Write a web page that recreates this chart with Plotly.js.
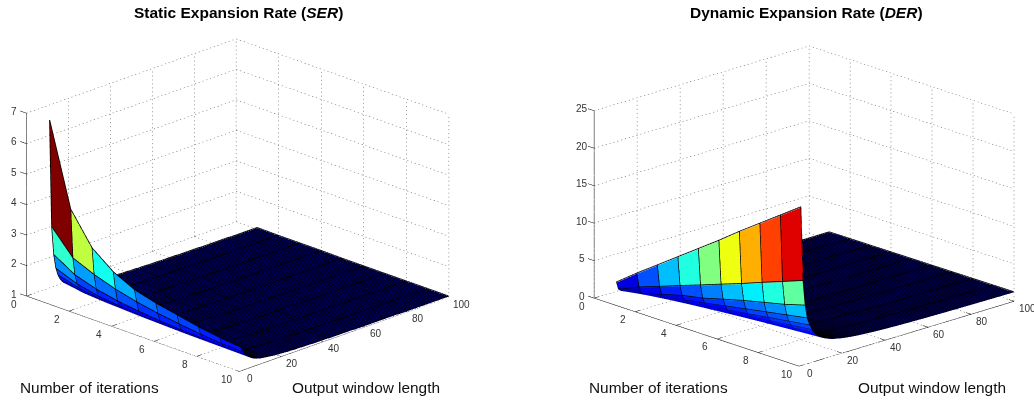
<!DOCTYPE html>
<html><head><meta charset="utf-8">
<script src="https://cdn.plot.ly/plotly-3.0.1.min.js"></script>
<style>html,body{margin:0;padding:0;background:#fff}#c{width:1034px;height:400px}</style>
</head><body><div id="c"></div>
<script>
// Values are z*100; rows = output window length 1..100, columns = iterations 1..10
const iterations=[1,2,3,4,5,6,7,8,9,10];
const xTicks=[0,2,4,6,8,10];
const yTicks=[0,20,40,60,80,100];
const serZTicks=[1,2,3,4,5,6,7];
const derZTicks=[0,5,10,15,20,25];
const SER=[
[700,430,328,274,240,221,207,193,182,175],[346,268,238,215,198,185,175,167,160,158],
[252,210,188,174,165,158,153,150,148,147],[205,178,163,155,150,146,144,142,141,140],
[181,162,151,146,142,139,137,136,135,134],[165,150,143,139,136,134,133,131,130,129],
[154,142,137,134,131,130,128,127,126,125],[147,137,133,130,128,127,125,124,123,122],
[142,134,130,128,126,125,123,122,121,120],[138,131,127,125,124,123,122,120,119,118],
[136,129,126,124,123,121,120,119,118,117],[133,127,124,122,121,119,118,118,117,116],
[131,125,122,120,119,118,117,116,115,115],[129,123,121,119,118,116,116,115,114,114],
[127,121,119,117,117,115,115,114,113,113],[125,120,118,116,116,114,114,113,113,112],
[124,119,117,115,115,114,113,112,112,111],[122,118,116,114,114,113,112,112,111,111],
[121,117,115,114,113,112,112,111,111,110],[120,116,115,113,113,112,111,111,110,110],
[119,115,114,112,112,111,110,110,110,109],[118,115,113,112,111,110,110,110,109,109],
[117,114,113,111,111,110,110,109,109,108],[117,113,112,111,110,110,109,109,108,108],
[116,113,112,110,110,109,109,108,108,108],[115,112,111,110,110,109,108,108,108,107],
[115,112,111,110,109,109,108,108,107,107],[114,111,110,109,109,108,108,108,107,107],
[114,111,110,109,109,108,108,107,107,107],[113,111,110,109,108,108,107,107,107,106],
[113,110,109,108,108,107,107,107,106,106],[113,110,109,108,108,107,107,107,106,106],
[112,110,109,108,108,107,107,106,106,106],[112,109,109,108,107,107,106,106,106,106],
[111,109,108,107,107,107,106,106,106,105],[111,109,108,107,107,106,106,106,106,105],
[111,109,108,107,107,106,106,106,105,105],[111,108,108,107,107,106,106,106,105,105],
[110,108,107,107,106,106,106,105,105,105],[110,108,107,107,106,106,106,105,105,105],
[110,108,107,106,106,106,105,105,105,105],[110,108,107,106,106,105,105,105,105,105],
[109,107,107,106,106,105,105,105,105,104],[109,107,107,106,106,105,105,105,105,104],
[109,107,106,106,106,105,105,105,104,104],[109,107,106,106,105,105,105,105,104,104],
[109,107,106,106,105,105,105,104,104,104],[108,107,106,105,105,105,105,104,104,104],
[108,107,106,105,105,105,104,104,104,104],[108,106,106,105,105,105,104,104,104,104],
[108,106,106,105,105,105,104,104,104,104],[108,106,106,105,105,104,104,104,104,104],
[108,106,105,105,105,104,104,104,104,104],[107,106,105,105,105,104,104,104,104,104],
[107,106,105,105,105,104,104,104,104,103],[107,106,105,105,104,104,104,104,104,103],
[107,106,105,105,104,104,104,104,104,103],[107,106,105,104,104,104,104,104,103,103],
[107,105,105,104,104,104,104,104,103,103],[107,105,105,104,104,104,104,103,103,103],
[107,105,105,104,104,104,104,103,103,103],[106,105,105,104,104,104,104,103,103,103],
[106,105,105,104,104,104,103,103,103,103],[106,105,105,104,104,104,103,103,103,103],
[106,105,104,104,104,104,103,103,103,103],[106,105,104,104,104,103,103,103,103,103],
[106,105,104,104,104,103,103,103,103,103],[106,105,104,104,104,103,103,103,103,103],
[106,105,104,104,104,103,103,103,103,103],[106,105,104,104,104,103,103,103,103,103],
[106,105,104,104,104,103,103,103,103,103],[106,104,104,104,103,103,103,103,103,103],
[105,104,104,104,103,103,103,103,103,103],[105,104,104,104,103,103,103,103,103,103],
[105,104,104,104,103,103,103,103,103,103],[105,104,104,103,103,103,103,103,103,102],
[105,104,104,103,103,103,103,103,103,102],[105,104,104,103,103,103,103,103,103,102],
[105,104,104,103,103,103,103,103,103,102],[105,104,104,103,103,103,103,103,102,102],
[105,104,104,103,103,103,103,103,102,102],[105,104,104,103,103,103,103,103,102,102],
[105,104,103,103,103,103,103,103,102,102],[105,104,103,103,103,103,103,102,102,102],
[105,104,103,103,103,103,103,102,102,102],[105,104,103,103,103,103,103,102,102,102],
[104,104,103,103,103,103,103,102,102,102],[104,104,103,103,103,103,102,102,102,102],
[104,104,103,103,103,103,102,102,102,102],[104,104,103,103,103,103,102,102,102,102],
[104,103,103,103,103,103,102,102,102,102],[104,103,103,103,103,103,102,102,102,102],
[104,103,103,103,103,102,102,102,102,102],[104,103,103,103,103,102,102,102,102,102],
[104,103,103,103,103,102,102,102,102,102],[104,103,103,103,103,102,102,102,102,102],
[104,103,103,103,103,102,102,102,102,102],[104,103,103,103,103,102,102,102,102,102],
[104,103,103,103,102,102,102,102,102,102],[104,103,103,103,102,102,102,102,102,102]
];
const DER=[
[290,500,700,900,1100,1300,1510,1710,1910,2110],[185,305,404,506,604,706,805,912,1015,1120],
[160,215,290,366,420,496,570,635,700,780],[150,200,250,300,350,400,450,500,550,600],
[140,180,220,260,300,340,380,420,460,500],[133,167,200,233,267,300,333,367,400,433],
[129,157,186,214,243,271,300,329,357,386],[125,150,175,200,225,250,275,300,325,350],
[122,144,167,189,211,233,256,278,300,322],[120,140,160,180,200,220,240,260,280,300],
[118,136,155,173,191,209,227,245,264,282],[117,133,150,167,183,200,217,233,250,267],
[115,131,146,162,177,192,208,223,238,254],[114,129,143,157,171,186,200,214,229,243],
[113,127,140,153,167,180,193,207,220,233],[113,125,138,150,163,175,188,200,213,225],
[112,124,135,147,159,171,182,194,206,218],[111,122,133,144,156,167,178,189,200,211],
[111,121,132,142,153,163,174,184,195,205],[110,120,130,140,150,160,170,180,190,200],
[110,119,129,138,148,157,167,176,186,195],[109,118,127,136,145,155,164,173,182,191],
[109,117,126,135,143,152,161,170,178,187],[108,117,125,133,142,150,158,167,175,183],
[108,116,124,132,140,148,156,164,172,180],[108,115,123,131,138,146,154,162,169,177],
[107,115,122,130,137,144,152,159,167,174],[107,114,121,129,136,143,150,157,164,171],
[107,114,121,128,134,141,148,155,162,169],[107,113,120,127,133,140,147,153,160,167],
[106,113,119,126,132,139,145,152,158,165],[106,113,119,125,131,138,144,150,156,163],
[106,112,118,124,130,136,142,148,155,161],[106,112,118,124,129,135,141,147,153,159],
[106,111,117,123,129,134,140,146,151,157],[106,111,117,122,128,133,139,144,150,156],
[105,111,116,122,127,132,138,143,149,154],[105,111,116,121,126,132,137,142,147,153],
[105,110,115,121,126,131,136,141,146,151],[105,110,115,120,125,130,135,140,145,150],
[105,110,115,120,124,129,134,139,144,149],[105,110,114,119,124,129,133,138,143,148],
[105,109,114,119,123,128,133,137,142,147],[105,109,114,118,123,127,132,136,141,145],
[104,109,113,118,122,127,131,136,140,144],[104,109,113,117,122,126,130,135,139,143],
[104,109,113,117,121,126,130,134,138,143],[104,108,113,117,121,125,129,133,138,142],
[104,108,112,116,120,124,129,133,137,141],[104,108,112,116,120,124,128,132,136,140],
[104,108,112,116,120,124,127,131,135,139],[104,108,112,115,119,123,127,131,135,138],
[104,108,111,115,119,123,126,130,134,138],[104,107,111,115,119,122,126,130,133,137],
[104,107,111,115,118,122,125,129,133,136],[104,107,111,114,118,121,125,129,132,136],
[104,107,111,114,118,121,125,128,132,135],[103,107,110,114,117,121,124,128,131,134],
[103,107,110,114,117,120,124,127,131,134],[103,107,110,113,117,120,123,127,130,133],
[103,107,110,113,116,120,123,126,130,133],[103,106,110,113,116,119,123,126,129,132],
[103,106,110,113,116,119,122,125,129,132],[103,106,109,113,116,119,122,125,128,131],
[103,106,109,112,115,118,122,125,128,131],[103,106,109,112,115,118,121,124,127,130],
[103,106,109,112,115,118,121,124,127,130],[103,106,109,112,115,118,121,124,126,129],
[103,106,109,112,114,117,120,123,126,129],[103,106,109,111,114,117,120,123,126,129],
[103,106,108,111,114,117,120,123,125,128],[103,106,108,111,114,117,119,122,125,128],
[103,105,108,111,114,116,119,122,125,127],[103,105,108,111,114,116,119,122,124,127],
[103,105,108,111,113,116,119,121,124,127],[103,105,108,111,113,116,118,121,124,126],
[103,105,108,110,113,116,118,121,123,126],[103,105,108,110,113,115,118,121,123,126],
[103,105,108,110,113,115,118,120,123,125],[103,105,108,110,113,115,118,120,123,125],
[102,105,107,110,112,115,117,120,122,125],[102,105,107,110,112,115,117,120,122,124],
[102,105,107,110,112,114,117,119,122,124],[102,105,107,110,112,114,117,119,121,124],
[102,105,107,109,112,114,116,119,121,124],[102,105,107,109,112,114,116,119,121,123],
[102,105,107,109,111,114,116,118,121,123],[102,105,107,109,111,114,116,118,120,123],
[102,104,107,109,111,113,116,118,120,122],[102,104,107,109,111,113,116,118,120,122],
[102,104,107,109,111,113,115,118,120,122],[102,104,107,109,111,113,115,117,120,122],
[102,104,106,109,111,113,115,117,119,122],[102,104,106,109,111,113,115,117,119,121],
[102,104,106,108,111,113,115,117,119,121],[102,104,106,108,110,113,115,117,119,121],
[102,104,106,108,110,112,114,116,119,121],[102,104,106,108,110,112,114,116,118,120],
[102,104,106,108,110,112,114,116,118,120],[102,104,106,108,110,112,114,116,118,120]
];

function jet(v,lo,hi){
  const i=Math.min(63,Math.floor((v-lo)/(hi-lo)*64)),t=(i+1)/64;
  const f=c=>Math.round(255*Math.max(0,Math.min(1,1.5-Math.abs(4*t-c))));
  return `rgb(${f(3)},${f(2)},${f(1)})`;
}
const xOut=-0.3; // room left of the box for the z-axis tick marks
function surfaceTraces(table,scene,zTicks,cmin,cmax){
  const nR=table.length,nC=iterations.length,x=[],y=[],z=[],I=[],J=[],K=[],fc=[];
  table.forEach((row,r)=>row.forEach((v,c)=>{x.push(iterations[c]);y.push(r+1);z.push(v/100);}));
  for(let r=0;r<nR-1;r++)for(let c=0;c<nC-1;c++){
    const a=r*nC+c,b=a+1,d=a+nC,e=d+1,col=jet(table[r][c]/100,cmin,cmax);
    I.push(a,a);J.push(b,e);K.push(e,d);fc.push(col,col);
  }
  const zLo=zTicks[0],zHi=zTicks[zTicks.length-1],xHi=10,yHi=100;
  // mesh lines sit a hair toward the viewer so the faces do not hide them
  const dy=0.15,dz=0.004*(zHi-zLo);
  const lx=[],ly=[],lz=[];
  for(let r=0;r<nR;r++){for(let c=0;c<nC;c++){lx.push(iterations[c]);ly.push(r+1-dy);lz.push(table[r][c]/100+dz);}lx.push(null);ly.push(null);lz.push(null);}
  for(let c=0;c<nC;c++){for(let r=0;r<nR;r++){lx.push(iterations[c]);ly.push(r+1-dy);lz.push(table[r][c]/100+dz);}lx.push(null);ly.push(null);lz.push(null);}
  const gx=[],gy=[],gz=[];
  const dotted=(a,b,n)=>{for(let k=0;k<n;k++){const s=k/n,e=(k+0.3)/n;
    gx.push(a[0]+(b[0]-a[0])*s,a[0]+(b[0]-a[0])*e,null);
    gy.push(a[1]+(b[1]-a[1])*s,a[1]+(b[1]-a[1])*e,null);
    gz.push(a[2]+(b[2]-a[2])*s,a[2]+(b[2]-a[2])*e,null);}};
  xTicks.forEach(t=>{dotted([t,0,zLo],[t,yHi,zLo],56);dotted([t,yHi,zLo],[t,yHi,zHi],46);});
  yTicks.forEach(t=>{dotted([0,t,zLo],[xHi,t,zLo],56);dotted([0,t,zLo],[0,t,zHi],46);});
  zTicks.forEach(t=>{dotted([0,0,t],[0,yHi,t],56);dotted([0,yHi,t],[xHi,yHi,t],56);});
  const ax=[],ay=[],az=[];
  const seg=(a,b)=>{ax.push(a[0],b[0],null);ay.push(a[1],b[1],null);az.push(a[2],b[2],null);};
  seg([0,0,zLo],[0,0,zHi]);seg([0,0,zLo],[xHi,0,zLo]);seg([xHi,0,zLo],[xHi,yHi,zLo]);
  xTicks.forEach(t=>seg([t,0,zLo],[t,2.5,zLo]));
  yTicks.forEach(t=>seg([xHi,t,zLo],[xHi-0.25,t,zLo]));
  zTicks.forEach(t=>seg([0,0,t],[xOut,0,t]));
  return [
   {type:'scatter3d',mode:'lines',scene,x:gx,y:gy,z:gz,hoverinfo:'skip',showlegend:false,line:{color:'#555',width:1},connectgaps:false},
   {type:'scatter3d',mode:'lines',scene,x:ax,y:ay,z:az,hoverinfo:'skip',showlegend:false,line:{color:'#000',width:1},connectgaps:false},
   {type:'mesh3d',scene,x,y,z,i:I,j:J,k:K,facecolor:fc,flatshading:true,hoverinfo:'skip',showscale:false,
    lighting:{ambient:1,diffuse:0,specular:0,roughness:1,fresnel:0}},
   {type:'scatter3d',mode:'lines',scene,x:lx,y:ly,z:lz,hoverinfo:'skip',showlegend:false,line:{color:'#000',width:1.6},connectgaps:false}
  ];
}
function axisOf(range){
  return {range,title:{text:''},showgrid:false,zeroline:false,showbackground:false,showline:false,ticks:'',showticklabels:false,showspikes:false};
}
const tickFont={family:'Liberation Sans, Arial, sans-serif',size:10,color:'#333'};
function tickNotes(zTicks){
  const zLo=zTicks[0],out=[];
  const add=(x,y,z,xshift,yshift,v)=>out.push({x,y,z,text:String(v),showarrow:false,xshift,yshift,font:tickFont});
  xTicks.forEach(t=>add(t,0,zLo,-12,-8,t));
  yTicks.forEach(t=>add(10,t,zLo,t===100?13:11,-7,t));
  zTicks.forEach(t=>add(0,0,t,-12,2,t));
  return out;
}
function sceneOf(domX,domY,zTicks,eye,aspect){
  const zHi=zTicks[zTicks.length-1];
  return {domain:{x:domX,y:domY},bgcolor:'#fff',aspectmode:'manual',aspectratio:aspect,
    xaxis:axisOf([xOut,10]),yaxis:axisOf([0,100]),zaxis:axisOf([zTicks[0],zHi*1.0002]),
    annotations:tickNotes(zTicks),
    camera:{projection:{type:'orthographic'},up:{x:0,y:0,z:1},center:{x:0,y:0,z:0},eye}};
}
const labelFont={family:'Liberation Sans, Arial, sans-serif',size:15.4,color:'#111'};
const titleFont={family:'Liberation Sans, Arial, sans-serif',size:15.5,color:'#000'};
const note=(px,py,text,font)=>({xref:'paper',yref:'paper',x:px/1034,y:1-py/400,text,font,showarrow:false,xanchor:'center',yanchor:'middle'});
const traces=[...surfaceTraces(SER,'scene',serZTicks,1,7),...surfaceTraces(DER,'scene2',derZTicks,1.02,21.1)];
const layout={width:1034,height:400,margin:{l:0,r:0,t:0,b:0},paper_bgcolor:'#fff',showlegend:false,
  scene:sceneOf([0,0.4532],[0,0.98],serZTicks,{x:1.25,y:-1.25,z:0.67},{x:1.581,y:1.513,z:0.998}),
  scene2:sceneOf([0.5493,1],[0,0.975],derZTicks,{x:1.28,y:-1.22,z:0.59},{x:1.569,y:1.523,z:1.013}),
  annotations:[
   note(238,13,'<b>Static Expansion Rate (<i>SER</i>)</b>',titleFont),
   note(806,13,'<b>Dynamic Expansion Rate (<i>DER</i>)</b>',titleFont),
   note(89,387,'Number of iterations',labelFont),
   note(366,387,'Output window length',labelFont),
   note(658,387,'Number of iterations',labelFont),
   note(932,387,'Output window length',labelFont)
  ]};
Plotly.newPlot('c',traces,layout,{displayModeBar:false});
</script></body></html>
